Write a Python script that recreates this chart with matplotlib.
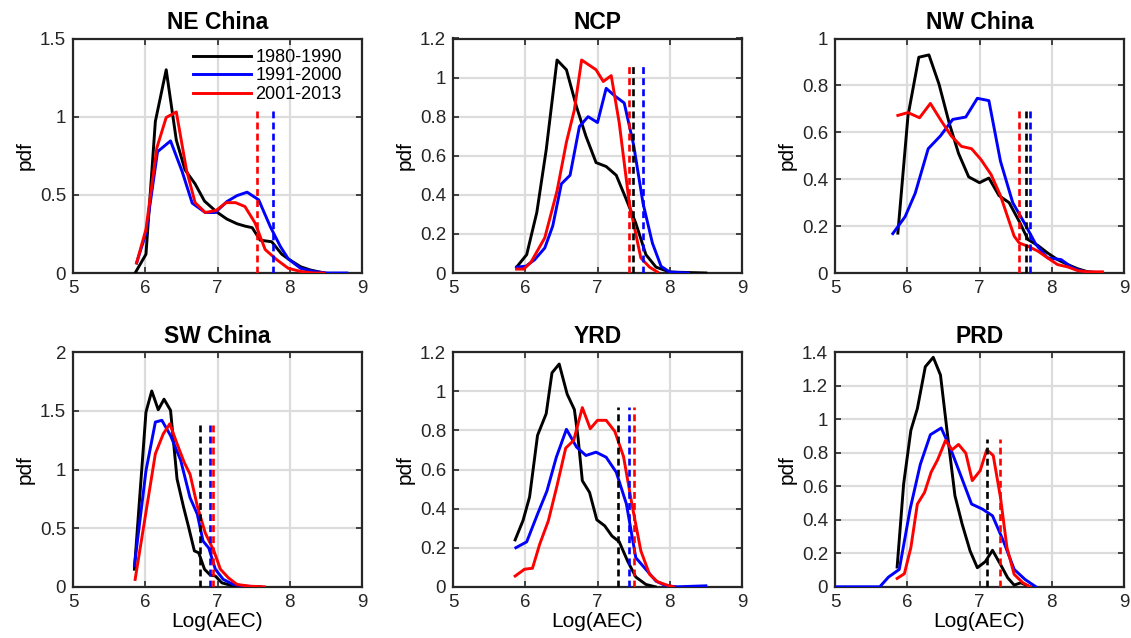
import matplotlib
matplotlib.use("Agg")
import matplotlib.pyplot as plt
from matplotlib.ticker import FuncFormatter

plt.rcParams['font.family'] = ['Liberation Sans', 'DejaVu Sans']

# ---------------- data ----------------
labels = ['1980-1990', '1991-2000', '2001-2013']
titles = ['NE China', 'NCP', 'NW China', 'SW China', 'YRD', 'PRD']
ylims = [1.5, 1.2, 1.0, 2.0, 1.2, 1.4]
ysteps = [0.5, 0.2, 0.2, 0.5, 0.2, 0.2]
xticks = [5, 6, 7, 8, 9]

# NE China
ne_k_x = [5.86, 6.01, 6.14, 6.29, 6.43, 6.55, 6.69, 6.82, 6.99, 7.13, 7.27, 7.38, 7.48, 7.59, 7.75, 7.89, 7.98, 8.15, 8.28, 8.47]
ne_k_y = [0.0, 0.12, 0.97, 1.30, 0.85, 0.66, 0.57, 0.46, 0.39, 0.345, 0.315, 0.30, 0.29, 0.21, 0.20, 0.12, 0.09, 0.04, 0.02, 0.0]
ne_b_x = [5.88, 6.01, 6.17, 6.35, 6.51, 6.65, 6.83, 6.97, 7.13, 7.27, 7.41, 7.57, 7.73, 7.87, 7.98, 8.15, 8.33, 8.52, 8.79]
ne_b_y = [0.064, 0.255, 0.776, 0.845, 0.65, 0.447, 0.387, 0.387, 0.457, 0.495, 0.517, 0.468, 0.297, 0.17, 0.09, 0.03, 0.01, 0.0, 0.0]
ne_r_x = [5.88, 6.01, 6.16, 6.29, 6.43, 6.57, 6.69, 6.83, 6.98, 7.12, 7.25, 7.38, 7.52, 7.66, 7.82, 7.98, 8.15, 8.33, 8.47]
ne_r_y = [0.064, 0.28, 0.80, 0.995, 1.03, 0.66, 0.45, 0.387, 0.40, 0.45, 0.45, 0.425, 0.32, 0.15, 0.085, 0.03, 0.01, 0.0, 0.0]
ne_mean = [None, 7.77, 7.54]
ne_mean_h = 1.04

# NCP
ncp_k_x = [5.88, 6.02, 6.16, 6.29, 6.44, 6.57, 6.71, 6.84, 6.98, 7.12, 7.26, 7.40, 7.53, 7.67, 7.81, 8.0, 8.5]
ncp_k_y = [0.03, 0.094, 0.31, 0.63, 1.09, 1.04, 0.85, 0.70, 0.565, 0.545, 0.50, 0.375, 0.255, 0.094, 0.03, 0.005, 0.0]
ncp_b_x = [5.88, 6.01, 6.13, 6.27, 6.38, 6.50, 6.62, 6.75, 6.87, 7.00, 7.12, 7.24, 7.37, 7.50, 7.63, 7.76, 7.88, 8.0, 8.25]
ncp_b_y = [0.03, 0.035, 0.068, 0.128, 0.24, 0.456, 0.50, 0.75, 0.80, 0.77, 0.945, 0.906, 0.87, 0.655, 0.357, 0.153, 0.034, 0.005, 0.0]
ncp_r_x = [5.88, 5.98, 6.08, 6.27, 6.44, 6.57, 6.68, 6.78, 6.98, 7.08, 7.19, 7.30, 7.44, 7.60, 7.72, 7.83]
ncp_r_y = [0.02, 0.02, 0.056, 0.18, 0.42, 0.67, 0.835, 1.09, 1.04, 0.98, 1.01, 0.77, 0.357, 0.077, 0.03, 0.005]
ncp_mean = [7.49, 7.63, 7.43]
ncp_mean_h = 1.07

# NW China
nw_k_x = [5.87, 6.01, 6.16, 6.30, 6.44, 6.58, 6.71, 6.85, 7.00, 7.13, 7.27, 7.41, 7.55, 7.67, 7.81, 7.94, 8.08, 8.22, 8.36, 8.50, 8.70]
nw_k_y = [0.17, 0.67, 0.92, 0.93, 0.805, 0.64, 0.51, 0.41, 0.385, 0.405, 0.33, 0.30, 0.22, 0.143, 0.117, 0.086, 0.057, 0.036, 0.018, 0.005, 0.0]
nw_b_x = [5.80, 5.97, 6.11, 6.29, 6.46, 6.63, 6.81, 6.97, 7.13, 7.29, 7.46, 7.62, 7.78, 7.94, 8.13, 8.29, 8.45, 8.70]
nw_b_y = [0.168, 0.24, 0.34, 0.53, 0.585, 0.655, 0.665, 0.745, 0.735, 0.477, 0.30, 0.214, 0.122, 0.065, 0.057, 0.022, 0.005, 0.0]
nw_r_x = [5.87, 6.01, 6.17, 6.32, 6.47, 6.61, 6.75, 6.89, 7.02, 7.16, 7.29, 7.48, 7.55, 7.67, 7.81, 7.94, 8.08, 8.22, 8.36, 8.50, 8.70]
nw_r_y = [0.672, 0.684, 0.662, 0.723, 0.649, 0.584, 0.54, 0.53, 0.484, 0.42, 0.33, 0.157, 0.128, 0.114, 0.093, 0.065, 0.036, 0.026, 0.01, 0.005, 0.005]
nw_mean = [7.65, 7.70, 7.54]
nw_mean_h = 0.71

# SW China
sw_k_x = [5.85, 6.01, 6.09, 6.18, 6.26, 6.35, 6.44, 6.53, 6.60, 6.68, 6.74, 6.82, 6.90, 6.97, 7.06, 7.20, 7.40]
sw_k_y = [0.15, 1.49, 1.67, 1.51, 1.60, 1.505, 0.92, 0.68, 0.51, 0.306, 0.29, 0.15, 0.10, 0.092, 0.034, 0.01, 0.0]
sw_b_x = [5.85, 6.01, 6.14, 6.23, 6.35, 6.49, 6.62, 6.72, 6.80, 6.88, 6.97, 7.08, 7.22, 7.40, 7.60]
sw_b_y = [0.18, 0.99, 1.405, 1.42, 1.29, 1.08, 0.76, 0.62, 0.39, 0.33, 0.15, 0.063, 0.02, 0.005, 0.0]
sw_r_x = [5.86, 6.14, 6.25, 6.34, 6.44, 6.54, 6.62, 6.72, 6.83, 6.95, 7.04, 7.15, 7.27, 7.45, 7.65]
sw_r_y = [0.063, 1.135, 1.305, 1.39, 1.22, 1.06, 0.96, 0.69, 0.46, 0.306, 0.15, 0.077, 0.02, 0.005, 0.0]
sw_mean = [6.76, 6.89, 6.94]
sw_mean_h = 1.40

# YRD
yrd_k_x = [5.86, 5.97, 6.06, 6.17, 6.29, 6.37, 6.47, 6.58, 6.68, 6.73, 6.79, 6.89, 6.99, 7.10, 7.20, 7.30, 7.42, 7.53, 7.67, 7.80]
yrd_k_y = [0.24, 0.34, 0.46, 0.775, 0.886, 1.095, 1.14, 0.986, 0.907, 0.766, 0.543, 0.483, 0.343, 0.312, 0.26, 0.231, 0.129, 0.05, 0.012, 0.0]
yrd_b_x = [5.87, 6.02, 6.17, 6.30, 6.43, 6.57, 6.71, 6.84, 6.98, 7.12, 7.26, 7.40, 7.53, 7.67, 7.81, 7.95, 8.10, 8.50]
yrd_b_y = [0.20, 0.23, 0.372, 0.49, 0.663, 0.806, 0.715, 0.672, 0.689, 0.663, 0.586, 0.424, 0.149, 0.089, 0.029, 0.005, 0.0, 0.005]
yrd_r_x = [5.86, 5.99, 6.10, 6.20, 6.32, 6.44, 6.56, 6.67, 6.79, 6.90, 7.00, 7.12, 7.24, 7.36, 7.48, 7.60, 7.72, 7.83, 7.95, 8.05]
yrd_r_y = [0.055, 0.09, 0.095, 0.218, 0.338, 0.518, 0.71, 0.749, 0.917, 0.809, 0.852, 0.852, 0.795, 0.667, 0.415, 0.184, 0.064, 0.026, 0.01, 0.0]
yrd_mean = [7.29, 7.43, 7.51]
yrd_mean_h = 0.92

# PRD
prd_k_x = [5.86, 5.95, 6.05, 6.14, 6.25, 6.36, 6.46, 6.55, 6.66, 6.76, 6.87, 6.97, 7.08, 7.18, 7.29, 7.39, 7.48, 7.57, 7.70]
prd_k_y = [0.118, 0.614, 0.934, 1.064, 1.314, 1.37, 1.264, 0.934, 0.544, 0.374, 0.214, 0.114, 0.15, 0.218, 0.134, 0.054, 0.01, 0.024, 0.0]
prd_b_x = [5.0, 5.62, 5.74, 5.89, 6.04, 6.18, 6.32, 6.47, 6.60, 6.75, 6.89, 7.04, 7.18, 7.33, 7.48, 7.63, 7.78]
prd_b_y = [0.0, 0.0, 0.058, 0.104, 0.464, 0.73, 0.908, 0.948, 0.824, 0.654, 0.494, 0.464, 0.424, 0.274, 0.104, 0.044, 0.0]
prd_r_x = [5.86, 5.96, 6.05, 6.14, 6.24, 6.33, 6.42, 6.53, 6.62, 6.71, 6.81, 6.90, 7.01, 7.10, 7.19, 7.29, 7.38, 7.48, 7.60, 7.70]
prd_r_y = [0.05, 0.078, 0.234, 0.494, 0.564, 0.684, 0.758, 0.874, 0.818, 0.85, 0.798, 0.634, 0.694, 0.818, 0.784, 0.534, 0.234, 0.074, 0.024, 0.0]
prd_mean = [7.10, None, 7.29]
prd_mean_h = 0.88

panels = [
    ((ne_k_x, ne_k_y), (ne_b_x, ne_b_y), (ne_r_x, ne_r_y), ne_mean, ne_mean_h),
    ((ncp_k_x, ncp_k_y), (ncp_b_x, ncp_b_y), (ncp_r_x, ncp_r_y), ncp_mean, ncp_mean_h),
    ((nw_k_x, nw_k_y), (nw_b_x, nw_b_y), (nw_r_x, nw_r_y), nw_mean, nw_mean_h),
    ((sw_k_x, sw_k_y), (sw_b_x, sw_b_y), (sw_r_x, sw_r_y), sw_mean, sw_mean_h),
    ((yrd_k_x, yrd_k_y), (yrd_b_x, yrd_b_y), (yrd_r_x, yrd_r_y), yrd_mean, yrd_mean_h),
    ((prd_k_x, prd_k_y), (prd_b_x, prd_b_y), (prd_r_x, prd_r_y), prd_mean, prd_mean_h),
]

colors = ['#000000', '#0000ff', '#ff0000']

# ---------------- layout ----------------
W, H = 1131, 638
fig = plt.figure(figsize=(W / 100, H / 100), dpi=100)

col_left = [73, 453, 835]
ax_w = 289
row_top = [38.5, 352.3]
ax_h = 234.5

def fmt(v, pos):
    return '%g' % round(v, 3)

for i, (k, b, r, means, mh) in enumerate(panels):
    row, col = divmod(i, 3)
    l = col_left[col] / W
    bt = 1 - (row_top[row] + ax_h) / H
    ax = fig.add_axes([l, bt, ax_w / W, ax_h / H])
    lines = []
    for (xs, ys), c, lab in zip((k, b, r), colors, labels):
        ln, = ax.plot(xs, ys, color=c, lw=2.1, label=lab, zorder=3)
        lines.append(ln)
    for m, c in zip(means, colors):
        if m is not None:
            ax.plot([m, m], [0, mh], color=c, lw=1.9, linestyle=(0, (2.6, 1.6)), zorder=4)
    ax.set_xlim(5, 9)
    ax.set_ylim(0, ylims[i])
    ax.set_xticks(xticks)
    n = int(round(ylims[i] / ysteps[i]))
    ax.set_yticks([j * ysteps[i] for j in range(n + 1)])
    ax.yaxis.set_major_formatter(FuncFormatter(fmt))
    ax.grid(True, color='#dcdcdc', lw=1.6)
    ax.set_axisbelow(True)
    ax.tick_params(direction='in', length=4, width=1.2, top=True, right=True,
                   labelsize=13.5, colors='#262626', pad=5)
    for s in ax.spines.values():
        s.set_linewidth(1.6)
        s.set_color('#262626')
    ax.set_title(titles[i], fontsize=16.5, fontweight='bold', pad=7)
    ax.set_ylabel('pdf', fontsize=15, labelpad=4)
    if row == 1:
        ax.set_xlabel('Log(AEC)', fontsize=15, labelpad=1)
    if i == 0:
        ax.legend(handles=lines, loc='upper left', bbox_to_anchor=(0.415, 0.955),
                  frameon=False, fontsize=13, handlelength=3.2, handletextpad=0.25,
                  labelspacing=0.08, borderpad=0, borderaxespad=0)

fig.savefig('out.png', dpi=100)
